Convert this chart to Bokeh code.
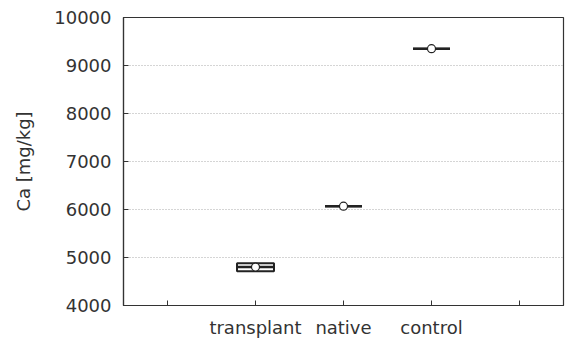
from bokeh.plotting import figure
from bokeh.models import FixedTicker, Range1d, ColumnDataSource
from bokeh.embed import file_html
from bokeh.resources import INLINE

categories = ["transplant", "native", "control"]
box_low = [4715, 6070, 9350]
box_high = [4880, 6070, 9350]
means = [4800, 6070, 9350]
y_ticks = [4000, 5000, 6000, 7000, 8000, 9000, 10000]
grid_ticks = [5000, 6000, 7000, 8000, 9000]
x_ticks = [0.5, 1.5, 2.5, 3.5, 4.5]

xs = [i + 1.5 for i in range(len(categories))]
src = ColumnDataSource(dict(x=xs, low=box_low, high=box_high, mean=means,
                            left=[x - 0.21 for x in xs], right=[x + 0.21 for x in xs]))

FONT = "DejaVu Sans"
TXT = "#333333"

p = figure(width=565, height=346, output_backend="svg", toolbar_location=None,
           x_range=Range1d(0, 5), y_range=Range1d(4000, 10000),
           min_border_left=123, min_border_right=2, min_border_top=17, min_border_bottom=41)
p.background_fill_color = "white"
p.border_fill_color = "white"
p.outline_line_color = "#333333"
p.outline_line_width = 1.2

p.xgrid.visible = False
p.ygrid.ticker = FixedTicker(ticks=grid_ticks)
p.ygrid.grid_line_color = "#aaaaaa"
p.ygrid.grid_line_dash = "1 2"
p.ygrid.grid_line_width = 1

p.xaxis.ticker = FixedTicker(ticks=x_ticks)
overrides = {x: "" for x in x_ticks}
for x, c in zip(xs, categories):
    overrides[x] = c
p.xaxis.major_label_overrides = overrides
p.yaxis.ticker = FixedTicker(ticks=y_ticks)
p.yaxis.axis_label = "Ca [mg/kg]"

for ax in (p.xaxis[0], p.yaxis[0]):
    ax.axis_line_color = "#333333"
    ax.axis_line_width = 1.2
    ax.major_tick_line_color = "#333333"
    ax.major_tick_in = 5
    ax.major_tick_out = 0
    ax.minor_tick_line_color = None
    ax.major_label_text_font = FONT
    ax.major_label_text_font_size = "18px"
    ax.major_label_text_color = TXT
    ax.axis_label_text_font = FONT
    ax.axis_label_text_font_size = "18px"
    ax.axis_label_text_font_style = "normal"
    ax.axis_label_text_color = TXT
p.xaxis.major_label_standoff = 11
p.yaxis.major_label_standoff = 12
p.yaxis.axis_label_standoff = 17

p.quad(left="left", right="right", bottom="low", top="high", source=src,
       fill_color="white", line_color="#222222", line_width=2)
p.segment(x0="left", x1="right", y0="mean", y1="mean", source=src,
          line_color="#222222", line_width=2.5)
p.scatter(x="x", y="mean", source=src, size=8, fill_color="white",
          line_color="#222222", line_width=1.2)

open("out.html", "w").write(file_html(p, INLINE))
